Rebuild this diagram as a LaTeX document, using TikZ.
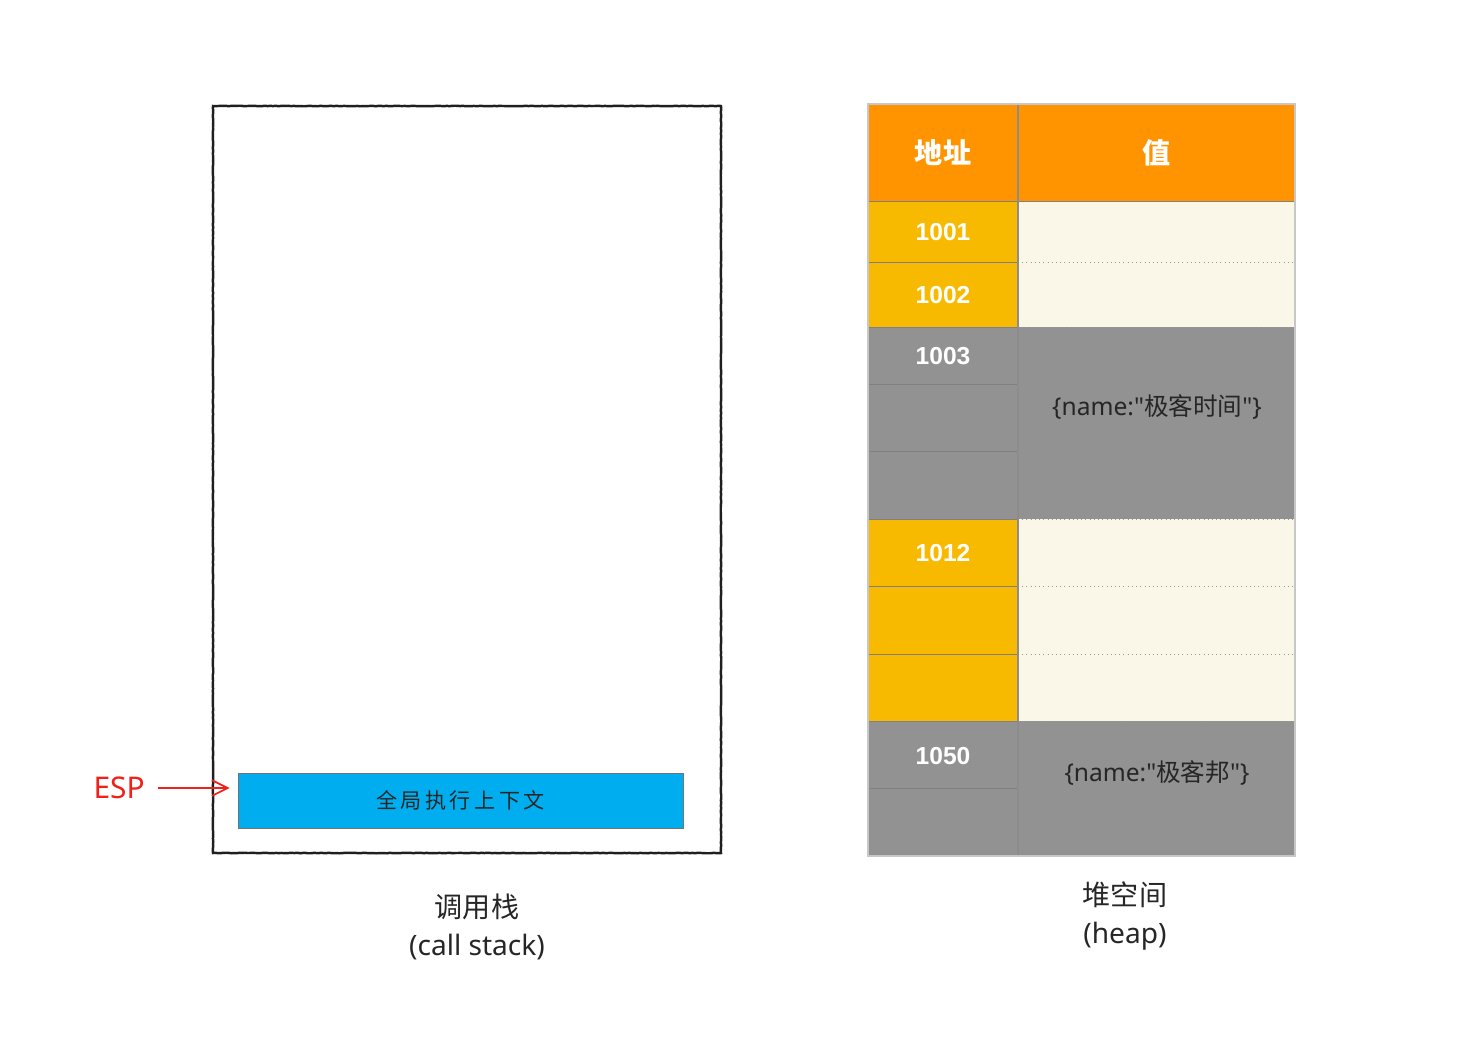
\documentclass[tikz,border=0pt]{standalone}
\usepackage{fontspec}
\setmainfont{Liberation Sans}
\newfontfamily\cjk{Noto Sans CJK SC}
\newfontfamily\hand{Noto Sans}
\usetikzlibrary{arrows.meta,decorations.pathmorphing}
\definecolor{hdr}{HTML}{FF9400}
\definecolor{ylw}{HTML}{F7BA00}
\definecolor{crm}{HTML}{FAF7E9}
\definecolor{gry}{HTML}{929292}
\definecolor{sky}{HTML}{00AEEF}
\definecolor{espred}{HTML}{F0201A}
\begin{document}
\begin{tikzpicture}[x=0.02cm,y=-0.02cm,
  numtxt/.style={text=white,font=\fontsize{14}{16}\selectfont\bfseries},
  hdrtxt/.style={text=white,font=\cjk\fontsize{16}{18}\selectfont\bfseries},
  valtxt/.style={text=black!85,font=\cjk\fontsize{14}{16}\selectfont},
  captxt/.style={text=black!85,font=\cjk\fontsize{16}{19}\selectfont,align=center},
  cellline/.style={draw=black!50,line width=0.5pt},
  dotline/.style={draw=black!40,line width=0.4pt,dotted},
  sketch/.style={draw=black!88,line width=1.4pt,decorate,decoration={random steps,segment length=1.5pt,amplitude=0.15pt}}
]
\useasboundingbox (0,0) rectangle (1474,1046);

% ---------- call stack ----------
\draw[sketch] (213,106) rectangle (721,853);
\node[fill=sky,draw=black!55,line width=0.4pt,minimum width=445*0.02cm,minimum height=55*0.02cm,inner sep=0pt,
  font=\cjk\fontsize{12}{14}\selectfont,text=black!85] (gctx) at (460.5,800.5) {全\,局\,执\,行\,上\,下\,文};
\node[text=espred,font=\hand\fontsize{17}{20}\selectfont,anchor=east,inner sep=0pt] (esp) at (145,788) {ESP};
\draw[espred,line width=1pt,-{Straight Barb[length=9pt,width=9pt]},shorten <=13*0.02cm,shorten >=8*0.02cm]
  (esp.east) -- (esp.east -| gctx.west);
\node[captxt] (cslbl) at (477,927) {调用栈\\[3pt]\hand (call stack)};

% ---------- heap table ----------
\fill[hdr] (868,104) rectangle (1295,201);
\fill[ylw] (868,201) rectangle (1018,327);
\fill[gry] (868,327) rectangle (1018,519);
\fill[ylw] (868,519) rectangle (1018,721);
\fill[gry] (868,721) rectangle (1018,856);
\fill[crm] (1018,201) rectangle (1295,327);
\fill[gry] (1018,327) rectangle (1295,519);
\fill[crm] (1018,519) rectangle (1295,721);
\fill[gry] (1018,721) rectangle (1295,856);
\foreach \yy in {262,327,384,451,519,586,654,721,788}
  \draw[cellline] (868,\yy) -- (1018,\yy);
\draw[cellline] (868,201) -- (1295,201);
\foreach \yy in {262,327,519,586,654,721}
  \draw[dotline] (1018,\yy) -- (1295,\yy);
\draw[draw=black!45,line width=0.6pt] (1018,104) -- (1018,856);
\draw[draw=black!22,line width=0.7pt] (868,104) rectangle (1295,856);

\node[hdrtxt] (haddr) at (943,153) {地址};
\node[hdrtxt] (hval) at (1157,153) {值};
\node[numtxt] (a1001) at (943,232) {1001};
\node[numtxt] (a1002) at (943,295) {1002};
\node[numtxt] (a1003) at (943,356) {1003};
\node[numtxt] (a1012) at (943,553) {1012};
\node[numtxt] (a1050) at (943,756) {1050};
\node[valtxt] (v1) at (1157,407) {\hand\{name:\textquotedbl{}\cjk 极客时间\hand\textquotedbl{}\}};
\node[valtxt] (v2) at (1157,773) {\hand\{name:\textquotedbl{}\cjk 极客邦\hand\textquotedbl{}\}};
\node[captxt] (hplbl) at (1125,916) {堆空间\\[3pt]\hand (heap)};
\end{tikzpicture}
\end{document}
